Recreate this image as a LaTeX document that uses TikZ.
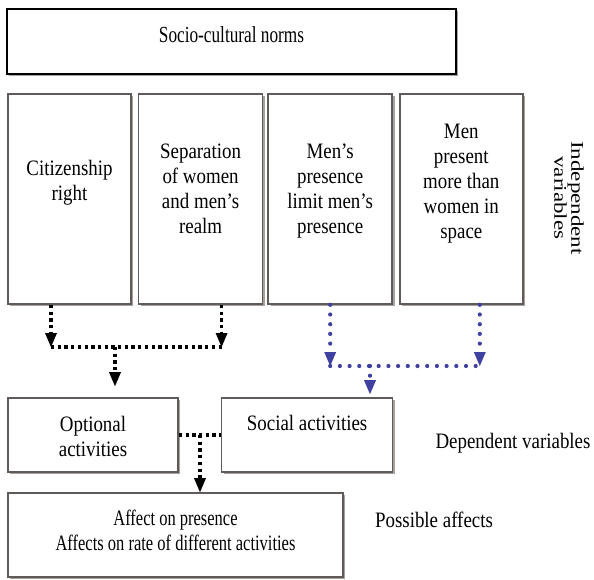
\documentclass[tikz,border=0pt]{standalone}
\usepackage{fontspec}
\setmainfont{Liberation Serif}[FakeStretch=0.86]
\newfontfamily\narrowserif{Liberation Serif}[FakeStretch=0.75]
\newfontfamily\plainserif{Liberation Serif}
\usetikzlibrary{arrows.meta, positioning, shadows}

\definecolor{edgegray}{RGB}{96,90,88}
\definecolor{shadegray}{RGB}{165,162,160}
\definecolor{dotblue}{RGB}{64,64,160}

\begin{document}
\begin{tikzpicture}[
  x=1pt, y=-1pt,
  box/.style={draw=edgegray, line width=1.6pt, fill=white, inner sep=0pt, align=center,
    font=\fontsize{22}{25}\selectfont,
    drop shadow={shadow xshift=2.4pt, shadow yshift=-2.4pt, fill=shadegray, opacity=1}},
  colbox/.style={box, minimum width=123pt, minimum height=210pt},
  lowbox/.style={box, minimum height=74pt},
  note/.style={align=center, inner sep=0pt, font=\fontsize{22}{25}\selectfont},
  blackdots/.style={line width=3.2pt, dash pattern=on 3.3pt off 3.4pt},
  bluedots/.style={draw=dotblue, line width=4.2pt, line cap=round, dash pattern=on 0pt off 9.7pt},
  blackarrow/.style={blackdots, -{Triangle[length=14pt, width=12pt, line width=0pt]}},
  bluearrow/.style={bluedots, -{Triangle[length=14pt, width=12pt, line width=0pt, fill=dotblue]}}
]
\useasboundingbox (0,0) rectangle (594,579);

% norms and the four independent variables
\node[box, draw=black, font=\narrowserif\fontsize{23}{26}\selectfont, minimum width=449pt, minimum height=65pt, text height=33pt, text depth=32pt] (norms) at (231.5,41.5) {Socio-cultural norms};

\node[colbox, text height=106pt, text depth=104pt] (citizen) at (69.5,199) {Citizenship\\right};
\node[colbox, minimum width=124pt, text height=139pt, text depth=71pt, right=6pt of citizen] (realm) {Separation\\of women\\and men’s\\realm};
\node[colbox, minimum width=124pt, text height=139pt, text depth=71pt, right=4pt of realm] (presence) {Men’s\\presence\\limit men’s\\presence};
\node[colbox, text height=144pt, text depth=66pt, right=6pt of presence] (space) {Men\\present\\more than\\women in\\space};

\node[note, font=\plainserif\fontsize{23}{22}\selectfont, rotate=-90, yscale=0.78] (indep) at (569,198) {Independent\\variables};

% dependent variables and affects
\node[lowbox, minimum width=170pt, text height=58pt, text depth=16pt] (optional) at (93,435) {Optional\\activities};
\node[lowbox, minimum width=171pt, text height=32pt, text depth=42pt, right=42pt of optional] (social) {Social activities};
\node[box, font=\narrowserif\fontsize{22}{25}\selectfont, minimum width=335pt, minimum height=84pt, text height=57pt, text depth=27pt] (affect) at (175.5,535) {Affect on presence\\Affects on rate of different activities};

\node[note] (dep) at (513,443) {Dependent variables};
\node[note] (possible) at (434,520) {Possible affects};

% black links
\coordinate (citdrop) at ([xshift=-18.5pt]citizen.south);
\coordinate (realmdrop) at ([xshift=21pt]realm.south);
\coordinate (leftjoin) at (115,347);
\draw[blackarrow] (citdrop) -- (citdrop |- leftjoin);
\draw[blackarrow] (realmdrop) -- (realmdrop |- leftjoin);
\draw[blackdots] (citdrop |- leftjoin) -- (realmdrop |- leftjoin);
\draw[blackarrow, shorten >=11pt] (leftjoin) -- (leftjoin |- optional.north);

% blue links
\coordinate (presdrop) at (presence.south);
\coordinate (spacedrop) at ([xshift=18.5pt]space.south);
\coordinate (rightjoin) at (370,366);
\draw[bluearrow] (presdrop) -- (presdrop |- rightjoin);
\draw[bluearrow] (spacedrop) -- (spacedrop |- rightjoin);
\draw[bluedots] (presdrop |- rightjoin) -- (spacedrop |- rightjoin);
\draw[bluearrow, shorten >=3pt] (rightjoin) -- (rightjoin |- social.north);

% lower link
\coordinate (lowjoin) at (200,435);
\draw[blackdots] (optional.east) -- (social.west);
\draw[blackarrow] (lowjoin) -- (lowjoin |- affect.north);

\end{tikzpicture}
\end{document}
